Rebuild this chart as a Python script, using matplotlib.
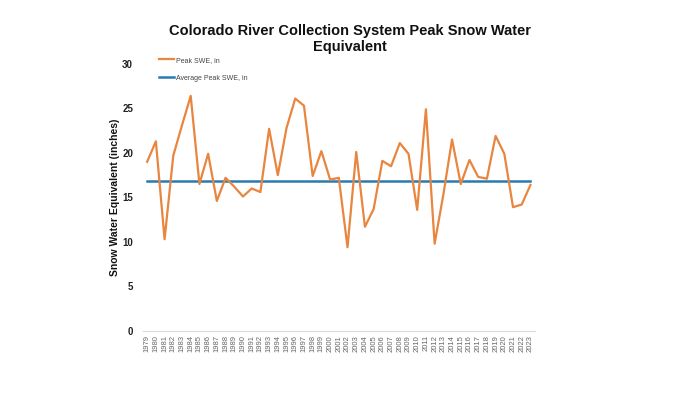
import matplotlib
matplotlib.use("Agg")
import matplotlib.pyplot as plt

years = list(range(1979, 2024))
peak_swe = [19.0, 21.3, 10.3, 19.7, 23.1, 26.4, 16.5, 19.9, 14.6, 17.2,
            16.2, 15.1, 16.0, 15.6, 22.7, 17.5, 22.8, 26.1, 25.3, 17.4,
            20.2, 17.0, 17.2, 9.4, 20.1, 11.7, 13.7, 19.1, 18.5, 21.1,
            19.9, 13.6, 24.9, 9.8, 15.3, 21.5, 16.5, 19.2, 17.3, 17.1,
            21.9, 19.9, 13.9, 14.2, 16.4]
avg_peak = 16.8
avg_series = [avg_peak] * len(years)
yticks = [0, 5, 10, 15, 20, 25, 30]

plt.rcParams['font.family'] = ['Liberation Sans', 'DejaVu Sans']

fig = plt.figure(figsize=(7, 3.94), dpi=100)
ax = fig.add_axes([0.204, 0.160, 0.560, 0.678])

ax.plot(years, peak_swe, color='#E8853F', lw=1.6, label='Peak SWE, in', zorder=3)
ax.plot(years, avg_series, color='#2A7AB0', lw=1.8, label='Average Peak SWE, in', zorder=2)

ax.set_xlim(1978.5, 2023.5)
ax.set_ylim(0, 30)
ax.set_yticks(yticks)
ax.set_yticklabels([str(t) for t in yticks], fontsize=7, fontweight='bold', color='#222222')
ax.set_xticks(years)
ax.set_xticklabels([str(y) for y in years], rotation=90, fontsize=5.5, color='#666666')
ax.tick_params(axis='both', length=0, pad=3)
ax.tick_params(axis='y', pad=7)

for s in ['top', 'right', 'left']:
    ax.spines[s].set_visible(False)
ax.spines['bottom'].set_color('#D9D9D9')
ax.spines['bottom'].set_linewidth(0.8)

ax.set_ylabel('Snow Water Equivalent (inches)', fontsize=7.5, fontweight='bold', color='#111111', labelpad=1.5)

fig.suptitle('Colorado River Collection System Peak Snow Water\nEquivalent',
             x=0.5, y=0.94, fontsize=10.5, fontweight='bold', color='#111111', linespacing=1.25)

leg = ax.legend(loc='upper left', bbox_to_anchor=(0.025, 1.05), frameon=False,
                fontsize=5, handlelength=2.2, labelspacing=1.6, handletextpad=0.2)
for t in leg.get_texts():
    t.set_color('#444444')

fig.savefig('out.png', dpi=100, facecolor='white')
